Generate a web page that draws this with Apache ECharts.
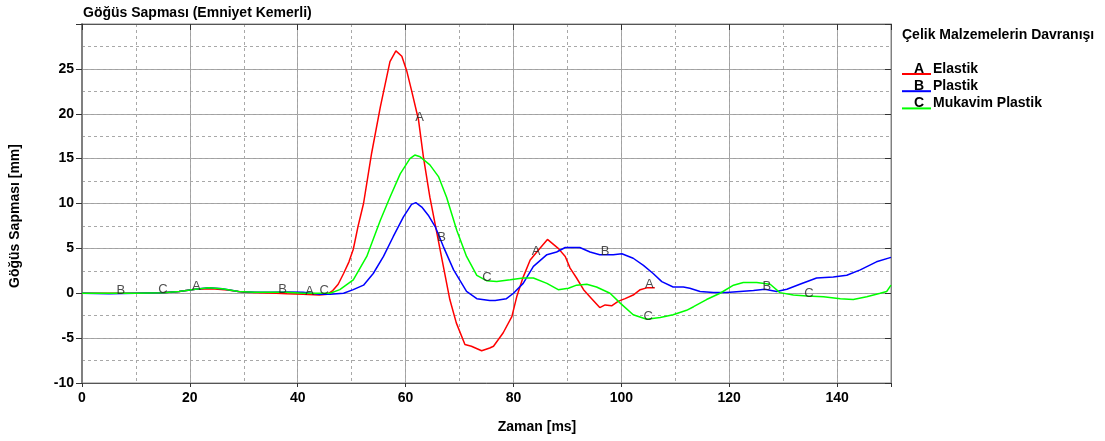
<!DOCTYPE html>
<html><head><meta charset="utf-8">
<script src="https://cdn.jsdelivr.net/npm/echarts@6/dist/echarts.min.js"></script>
<style>html,body{margin:0;padding:0;background:#fff}#c{width:1105px;height:441px}</style>
</head><body><div id="c"></div>
<script>
const chartTitle = 'Göğüs Sapması (Emniyet Kemerli)';
const xAxisName = 'Zaman [ms]';
const yAxisName = 'Göğüs Sapması [mm]';
const legendTitle = 'Çelik Malzemelerin Davranışı';
const seriesNames = ['Elastik', 'Plastik', 'Mukavim Plastik'];
const seriesLetters = ['A', 'B', 'C'];
const seriesColors = ['#ff0000', '#0000ff', '#00ff00'];
const xTickLabels = [0, 20, 40, 60, 80, 100, 120, 140];
const yTickLabels = [-10, -5, 0, 5, 10, 15, 20, 25];

const elastik = [[0,0],[5,0],[10,0],[15,0.05],[18,0.2],[21,0.45],[24,0.5],[27,0.35],[30,0.1],[33,0.05],[36,0],[38,-0.05],[41,-0.1],[44,-0.2],[45.5,-0.1],[46.5,0.3],[47.5,1.0],[48.5,2.2],[49.5,3.5],[50.3,4.9],[51.2,7.5],[52.2,10],[53.7,15.6],[55.3,20.7],[57.1,25.8],[58.2,27],[59.3,26.4],[60.2,24.8],[61.1,22.6],[62.4,19.3],[63.3,15.2],[64.5,10.7],[65.8,6.7],[67,3.0],[68.2,-0.7],[69.4,-3.3],[71,-5.7],[72.2,-5.9],[74.1,-6.4],[75.6,-6.1],[76.3,-5.9],[78.1,-4.4],[79.7,-2.6],[80.6,-0.4],[81.8,1.8],[83.1,3.7],[84.6,4.8],[86.3,6.0],[88.3,5.0],[89.6,4.1],[90.5,2.8],[91.7,1.7],[93,0.4],[94.5,-0.6],[96,-1.6],[97,-1.3],[98.2,-1.4],[99.4,-0.9],[100.7,-0.6],[102.2,-0.2],[103.5,0.4],[104.7,0.6],[106.2,0.6]];
const plastik = [[0,0],[5,-0.05],[10,0],[15,0.05],[18,0.2],[21,0.45],[23.5,0.6],[26,0.5],[29,0.2],[32,0.1],[35,0.1],[38,0.15],[41,0.1],[44,-0.1],[46,-0.1],[48.5,0],[50.3,0.4],[52.2,0.9],[54,2.2],[55.9,4.1],[57.7,6.3],[59.6,8.5],[61.1,9.9],[61.9,10.1],[63,9.6],[64.2,8.7],[65.5,7.4],[67,5.2],[68.9,2.6],[71.3,0.2],[73.2,-0.6],[75.6,-0.8],[76.6,-0.8],[78.7,-0.6],[80,0],[81.8,1.1],[83.7,3.0],[86.2,4.3],[88,4.6],[89.6,5.1],[92.3,5.1],[94.2,4.6],[96,4.3],[98.5,4.3],[100.1,4.4],[102.2,3.9],[104.1,3.1],[105.9,2.2],[107.5,1.3],[109.6,0.7],[111.5,0.7],[112.7,0.55],[114.6,0.2],[117.1,0.07],[119.5,0.07],[122,0.2],[124.5,0.3],[126.6,0.45],[128.8,0.2],[130.7,0.45],[133.1,1.0],[136.2,1.7],[139.3,1.8],[141.8,2.0],[144.3,2.6],[147.3,3.5],[150,4.0]];
const mukavim = [[0,0],[5,0],[10,0],[15,0.05],[18,0.2],[21,0.45],[23.5,0.6],[26,0.5],[29,0.2],[32,0.1],[35,0.1],[38,0.1],[41,0],[44,0],[46,0],[47.8,0.4],[50.3,1.5],[52.8,4.1],[55.3,8.1],[57.1,10.7],[59,13.3],[60.8,15.0],[61.7,15.4],[62.7,15.2],[64.5,14.3],[66.1,13.0],[67.6,10.7],[69.5,7.0],[71.3,4.1],[73.2,2.0],[75,1.4],[76.9,1.3],[79.4,1.5],[81.8,1.7],[83.7,1.7],[86.2,1.1],[88.3,0.4],[90.2,0.55],[91.7,0.9],[93.6,1.0],[95.4,0.7],[97.9,0],[99.8,-1.1],[102.2,-2.4],[104.7,-2.9],[107.2,-2.7],[109.6,-2.4],[112.1,-1.9],[113.4,-1.5],[115.8,-0.7],[118.3,0],[120.8,0.9],[122.6,1.2],[125.1,1.2],[127.6,1.0],[129.4,0.07],[131.9,-0.2],[134.4,-0.3],[137.5,-0.4],[140.6,-0.6],[143,-0.7],[145.5,-0.4],[148,0],[149.2,0.2],[150,0.9]];

const letterXA = [21, 42, 62.4, 84, 105];
const letterXB = [7, 37, 66.5, 96.8, 126.8];
const letterXC = [14.8, 44.7, 74.9, 104.8, 134.6];

const seriesData = [elastik, plastik, mukavim];
const letterXs = [letterXA, letterXB, letterXC];

function yAt(arr, x) {
  for (let i = 1; i < arr.length; i++) {
    if (arr[i][0] >= x) {
      const a = arr[i-1], b = arr[i];
      const t = (x - a[0]) / (b[0] - a[0]);
      return a[1] + t * (b[1] - a[1]);
    }
  }
  return arr[arr.length-1][1];
}

const FONT = '"Liberation Sans", Arial, sans-serif';
const chart = echarts.init(document.getElementById('c'), null, {renderer: 'canvas'});

const series = [];
seriesData.forEach((d, i) => {
  series.push({
    type: 'line', name: seriesNames[i], data: d, showSymbol: false, symbol: 'none',
    lineStyle: {color: seriesColors[i], width: 1.5}, itemStyle: {color: seriesColors[i]},
    xAxisIndex: 0, yAxisIndex: 0, animation: false, z: 3, silent: true
  });
});
letterXs.forEach((xs, i) => {
  series.push({
    type: 'scatter', name: seriesLetters[i],
    data: xs.map(x => [x, yAt(seriesData[i], x)]),
    symbolSize: 1, itemStyle: {color: 'rgba(0,0,0,0)'},
    label: {show: true, position: 'inside', offset: [1, -3], formatter: seriesLetters[i],
      color: '#222', fontSize: 13, fontFamily: FONT},
    xAxisIndex: 0, yAxisIndex: 0, animation: false, z: 5, silent: true
  });
});

const graphic = [
  {type: 'text', x: 15, y: 216, rotation: Math.PI / 2,
   style: {text: yAxisName, fill: '#000', font: 'bold 14px ' + FONT, textAlign: 'center', textVerticalAlign: 'middle', align: 'center', verticalAlign: 'middle'}},
  {type: 'text', x: 537, y: 427,
   style: {text: xAxisName, fill: '#000', font: 'bold 14px ' + FONT, textAlign: 'center', textVerticalAlign: 'middle', align: 'center', verticalAlign: 'middle'}},
  {type: 'text', x: 902, y: 35,
   style: {text: legendTitle, fill: '#000', font: 'bold 14px ' + FONT, textAlign: 'left', textVerticalAlign: 'middle', align: 'left', verticalAlign: 'middle'}}
];
seriesNames.forEach((n, i) => {
  const ty = 69 + i * 17.2;
  graphic.push({type: 'line', shape: {x1: 902, y1: ty + 5, x2: 931, y2: ty + 5}, style: {stroke: seriesColors[i], lineWidth: 2}});
  graphic.push({type: 'text', x: 919, y: ty, style: {text: seriesLetters[i], fill: '#000', font: 'bold 14px ' + FONT, textAlign: 'center', textVerticalAlign: 'middle', align: 'center', verticalAlign: 'middle'}});
  graphic.push({type: 'text', x: 933, y: ty, style: {text: n, fill: '#000', font: 'bold 14px ' + FONT, textAlign: 'left', textVerticalAlign: 'middle', align: 'left', verticalAlign: 'middle'}});
});

const gridStyleSolid = {show: true, lineStyle: {color: '#a0a0a0', width: 1, type: 'solid'}};
const gridStyleDash = {show: true, lineStyle: {color: '#a8a8a8', width: 1, type: [3, 3]}};

const option = {
  animation: false,
  backgroundColor: '#fff',
  title: {text: chartTitle, left: 83, top: 6, padding: 0, textStyle: {fontFamily: FONT, fontSize: 14, fontWeight: 'bold', color: '#000'}},
  grid: {left: 82, top: 24, width: 809, height: 359, show: true, borderColor: '#888', borderWidth: 1, containLabel: false},
  xAxis: [
    {type: 'value', min: 0, max: 150, interval: 20, position: 'bottom',
     axisLine: {show: true, onZero: false, lineStyle: {color: '#555', width: 1}},
     axisTick: {show: true, inside: false, length: 4, lineStyle: {color: '#333'}},
     axisLabel: {show: true, margin: 8, color: '#000', fontFamily: FONT, fontSize: 14, fontWeight: 'bold',
       formatter: v => xTickLabels.includes(v) ? String(v) : ''},
     splitLine: gridStyleSolid},
    {type: 'value', min: 0, max: 150, interval: 10, position: 'bottom',
     axisLine: {show: false}, axisTick: {show: false}, axisLabel: {show: false}, splitLine: gridStyleDash},
    {type: 'value', min: 0, max: 150, interval: 20, position: 'top',
     axisLine: {show: true, onZero: false, lineStyle: {color: '#555', width: 1}},
     axisTick: {show: true, inside: true, length: 6, lineStyle: {color: '#333'}},
     axisLabel: {show: false}, splitLine: {show: false}}
  ],
  yAxis: [
    {type: 'value', min: -10, max: 30, interval: 5, position: 'left',
     axisLine: {show: true, onZero: false, lineStyle: {color: '#808080', width: 2}},
     axisTick: {show: true, inside: false, length: 6, lineStyle: {color: '#333'}},
     axisLabel: {show: true, margin: 8, color: '#000', fontFamily: FONT, fontSize: 14, fontWeight: 'bold',
       formatter: v => yTickLabels.includes(v) ? String(v) : ''},
     splitLine: gridStyleSolid},
    {type: 'value', min: -10, max: 30, interval: 2.5, position: 'left',
     axisLine: {show: false}, axisTick: {show: false}, axisLabel: {show: false}, splitLine: gridStyleDash},
    {type: 'value', min: -10, max: 30, interval: 5, position: 'right',
     axisLine: {show: true, onZero: false, lineStyle: {color: '#808080', width: 1}},
     axisTick: {show: true, inside: true, length: 6, lineStyle: {color: '#333'}},
     axisLabel: {show: false}, splitLine: {show: false}}
  ],
  graphic: graphic,
  series: series
};
chart.setOption(option);
</script></body></html>
